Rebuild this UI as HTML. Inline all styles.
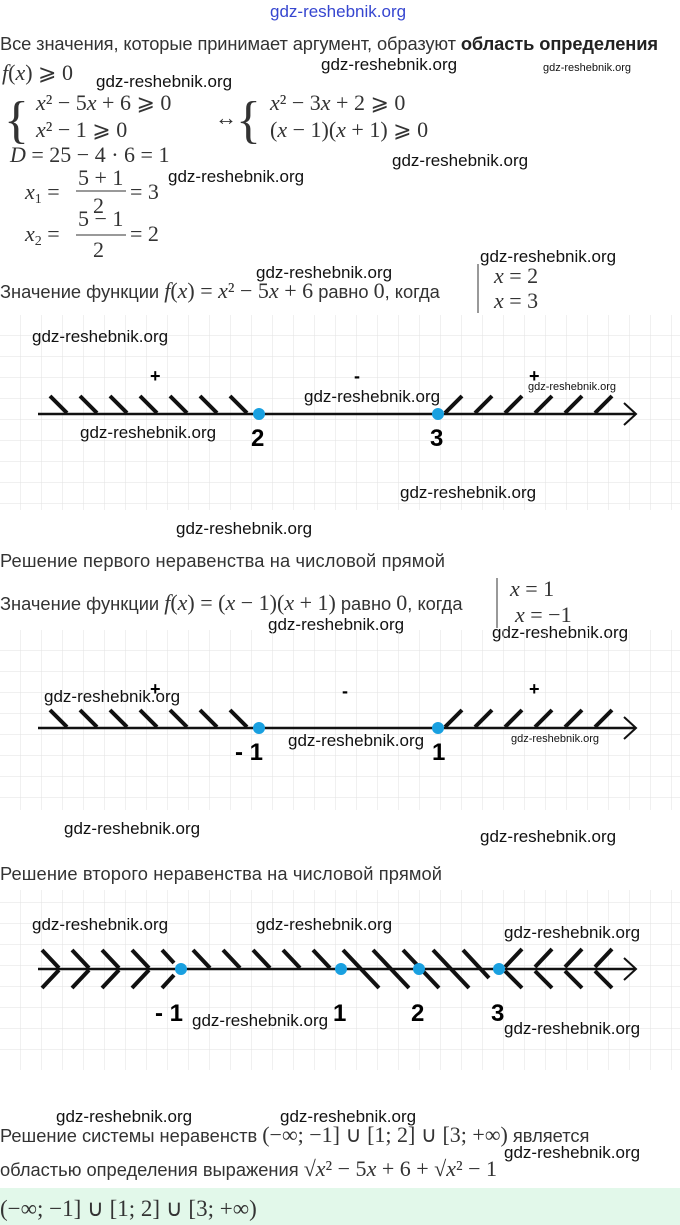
<!DOCTYPE html>
<html><head><meta charset="utf-8"><style>
body{margin:0;background:#fff;width:680px;height:1225px;overflow:hidden}
svg{display:block}
.t{font-family:"Liberation Sans",sans-serif;font-size:18.3px;fill:#333}
.m{font-family:"Liberation Serif",serif;font-size:22px;fill:#333;font-style:italic}
.n{font-family:"Liberation Serif",serif;font-size:22px;fill:#333}
.w{font-family:"Liberation Sans",sans-serif;font-size:17px;fill:#111}
.ws{font-family:"Liberation Sans",sans-serif;font-size:11px;fill:#111}
.lb{font-family:"Liberation Sans",sans-serif;font-size:24px;font-weight:bold;fill:#000}
</style></head><body>
<svg width="680" height="1225" viewBox="0 0 680 1225" xmlns="http://www.w3.org/2000/svg">
<defs>
<pattern id="g" width="21" height="21" patternUnits="userSpaceOnUse">
<path d="M21 0V21M0 21H21" stroke="#e2e2e2" stroke-width="1" fill="none"/>
</pattern>
</defs>
<text x="270" y="17" class="w" style="fill:#3646d0">gdz-reshebnik.org</text>
<text x="0" y="50" class="t" textLength="658">Все значения, которые принимает аргумент, образуют <tspan font-weight="bold" style="fill:#222">область определения</tspan></text>
<text x="2" y="80" class="n"><tspan font-style="italic">f</tspan>(<tspan font-style="italic">x</tspan>)  ⩾ 0</text>
<text x="96" y="87" class="w">gdz-reshebnik.org</text>
<text x="321" y="70" class="w">gdz-reshebnik.org</text>
<text x="543" y="71" class="ws">gdz-reshebnik.org</text>
<text x="4" y="137" class="n" style="font-size:52px">{</text>
<text x="36" y="110" class="n"><tspan font-style="italic">x</tspan>² − 5<tspan font-style="italic">x</tspan> + 6  ⩾  0</text>
<text x="36" y="137" class="n"><tspan font-style="italic">x</tspan>² − 1  ⩾  0</text>
<text x="215" y="125" class="n">↔</text>
<text x="236" y="137" class="n" style="font-size:52px">{</text>
<text x="270" y="110" class="n"><tspan font-style="italic">x</tspan>² − 3<tspan font-style="italic">x</tspan> + 2  ⩾  0</text>
<text x="270" y="137" class="n">(<tspan font-style="italic">x</tspan> − 1)(<tspan font-style="italic">x</tspan> + 1)  ⩾  0</text>
<text x="10" y="162" class="n"><tspan font-style="italic">D</tspan> = 25 − 4 · 6 = 1</text>
<text x="392" y="166" class="w">gdz-reshebnik.org</text>
<text x="25" y="199" class="n"><tspan font-style="italic">x</tspan><tspan font-size="14" dy="4">1</tspan><tspan dy="-4"> =</tspan></text>
<text x="78" y="185" class="n">5 + 1</text><line x1="76" y1="191" x2="126" y2="191" stroke="#333"/><text x="93" y="213" class="n">2</text>
<text x="130" y="199" class="n">= 3</text>
<text x="168" y="182" class="w">gdz-reshebnik.org</text>
<text x="25" y="241" class="n"><tspan font-style="italic">x</tspan><tspan font-size="14" dy="4">2</tspan><tspan dy="-4"> =</tspan></text>
<text x="78" y="226" class="n">5 − 1</text><line x1="76" y1="235" x2="126" y2="235" stroke="#333"/><text x="93" y="257" class="n">2</text>
<text x="130" y="241" class="n">= 2</text>
<text x="480" y="262" class="w">gdz-reshebnik.org</text>
<text x="256" y="278" class="w">gdz-reshebnik.org</text>
<text x="0" y="298" class="t">Значение функции <tspan style="font-size:22px;font-family:'Liberation Serif'"><tspan font-style="italic">f</tspan>(<tspan font-style="italic">x</tspan>) = <tspan font-style="italic">x</tspan>² − 5<tspan font-style="italic">x</tspan> + 6</tspan> равно <tspan style="font-size:22px;font-family:'Liberation Serif'">0</tspan>, когда</text>
<line x1="478" y1="264" x2="478" y2="313" stroke="#333"/>
<text x="494" y="283" class="n"><tspan font-style="italic">x</tspan> = 2</text>
<text x="494" y="308" class="n"><tspan font-style="italic">x</tspan> = 3</text>

<rect x="0" y="315" width="680" height="195" fill="url(#g)"/>
<g stroke="#111" stroke-width="4">
<path d="M50 396l17 17M80 396l17 17M110 396l17 17M140 396l17 17M170 396l17 17M200 396l17 17M230 396l17 17"/>
<path d="M445 413l17-17M475 413l17-17M505 413l17-17M535 413l17-17M565 413l17-17M595 413l17-17"/>
</g>
<line x1="38" y1="414" x2="636" y2="414" stroke="#111" stroke-width="2.5"/>
<path d="M624 403l12 11-12 11" stroke="#111" stroke-width="2" fill="none"/>
<circle cx="259" cy="414" r="6" fill="#19a0e0"/><circle cx="438" cy="414" r="6" fill="#19a0e0"/>
<text x="150" y="382" class="lb" style="font-size:18px">+</text>
<text x="354" y="382" class="lb" style="font-size:18px">-</text>
<text x="529" y="382" class="lb" style="font-size:18px">+</text>
<text x="251" y="446" class="lb">2</text><text x="430" y="446" class="lb">3</text>
<text x="32" y="342" class="w">gdz-reshebnik.org</text>
<text x="304" y="402" class="w">gdz-reshebnik.org</text>
<text x="528" y="390" class="ws">gdz-reshebnik.org</text>
<text x="80" y="438" class="w">gdz-reshebnik.org</text>
<text x="400" y="498" class="w">gdz-reshebnik.org</text>
<text x="176" y="534" class="w">gdz-reshebnik.org</text>
<text x="0" y="567" class="t" textLength="445">Решение первого неравенства на числовой прямой</text>
<text x="0" y="610" class="t">Значение функции <tspan style="font-size:22px;font-family:'Liberation Serif'"><tspan font-style="italic">f</tspan>(<tspan font-style="italic">x</tspan>) = (<tspan font-style="italic">x</tspan> − 1)(<tspan font-style="italic">x</tspan> + 1)</tspan> равно <tspan style="font-size:22px;font-family:'Liberation Serif'">0</tspan>, когда</text>
<line x1="497" y1="578" x2="497" y2="628" stroke="#333"/>
<text x="510" y="596" class="n"><tspan font-style="italic">x</tspan> = 1</text>
<text x="515" y="622" class="n"><tspan font-style="italic">x</tspan> = −1</text>
<text x="268" y="630" class="w">gdz-reshebnik.org</text>
<text x="492" y="638" class="w">gdz-reshebnik.org</text>

<rect x="0" y="630" width="680" height="180" fill="url(#g)"/>
<g stroke="#111" stroke-width="4">
<path d="M50 710l17 17M80 710l17 17M110 710l17 17M140 710l17 17M170 710l17 17M200 710l17 17M230 710l17 17"/>
<path d="M445 727l17-17M475 727l17-17M505 727l17-17M535 727l17-17M565 727l17-17M595 727l17-17"/>
</g>
<line x1="38" y1="728" x2="636" y2="728" stroke="#111" stroke-width="2.5"/>
<path d="M624 717l12 11-12 11" stroke="#111" stroke-width="2" fill="none"/>
<circle cx="259" cy="728" r="6" fill="#19a0e0"/><circle cx="438" cy="728" r="6" fill="#19a0e0"/>
<text x="150" y="695" class="lb" style="font-size:18px">+</text>
<text x="342" y="697" class="lb" style="font-size:18px">-</text>
<text x="529" y="695" class="lb" style="font-size:18px">+</text>
<text x="235" y="760" class="lb">- 1</text><text x="432" y="760" class="lb">1</text>
<text x="44" y="702" class="w">gdz-reshebnik.org</text>
<text x="288" y="746" class="w">gdz-reshebnik.org</text>
<text x="511" y="742" class="ws">gdz-reshebnik.org</text>
<text x="64" y="834" class="w">gdz-reshebnik.org</text>
<text x="480" y="842" class="w">gdz-reshebnik.org</text>
<text x="0" y="880" class="t" textLength="442">Решение второго неравенства на числовой прямой</text>

<rect x="0" y="890" width="680" height="180" fill="url(#g)"/>
<g stroke="#111" stroke-width="4">
<path d="M42 950l17 18M72 950l17 18M102 950l17 18M132 950l17 18M162 950l12 13"/>
<path d="M42 988l17-18M72 988l17-18M102 988l17-18M132 988l17-18M162 988l12-13"/>
<path d="M193 950l17 18M223 950l17 18M253 950l17 18M283 950l17 18M313 950l17 18"/>
<path d="M343 950l36 38M373 950l36 38M403 950l36 38M433 950l36 38M463 950l26 28"/>
<path d="M505 967l17-18M535 967l17-18M565 967l17-18M595 967l17-18"/>
<path d="M505 971l17 17M535 971l17 17M565 971l17 17M595 971l17 17"/>
</g>
<line x1="38" y1="969" x2="636" y2="969" stroke="#111" stroke-width="2.5"/>
<path d="M624 958l12 11-12 11" stroke="#111" stroke-width="2" fill="none"/>
<circle cx="181" cy="969" r="6" fill="#19a0e0"/><circle cx="341" cy="969" r="6" fill="#19a0e0"/>
<circle cx="419" cy="969" r="6" fill="#19a0e0"/><circle cx="499" cy="969" r="6" fill="#19a0e0"/>
<text x="155" y="1021" class="lb">- 1</text><text x="333" y="1021" class="lb">1</text>
<text x="411" y="1021" class="lb">2</text><text x="491" y="1021" class="lb">3</text>
<text x="32" y="930" class="w">gdz-reshebnik.org</text>
<text x="256" y="930" class="w">gdz-reshebnik.org</text>
<text x="504" y="938" class="w">gdz-reshebnik.org</text>
<text x="192" y="1026" class="w">gdz-reshebnik.org</text>
<text x="504" y="1034" class="w">gdz-reshebnik.org</text>

<text x="56" y="1122" class="w">gdz-reshebnik.org</text>
<text x="280" y="1122" class="w">gdz-reshebnik.org</text>
<text x="0" y="1142" class="t">Решение системы неравенств <tspan style="font-size:22px;font-family:'Liberation Serif'">(−∞; −1] ∪ [1; 2] ∪ [3; +∞)</tspan> является</text>
<text x="504" y="1158" class="w">gdz-reshebnik.org</text>
<text x="0" y="1176" class="t">областью определения выражения <tspan style="font-size:22px;font-family:'Liberation Serif'">√<tspan font-style="italic">x</tspan>² − 5<tspan font-style="italic">x</tspan> + 6 + √<tspan font-style="italic">x</tspan>² − 1</tspan></text>
<rect x="0" y="1188" width="680" height="37" fill="#e2f8ea"/>
<text x="0" y="1216" class="n" style="font-size:23px">(−∞; −1] ∪ [1; 2] ∪ [3; +∞)</text>
</svg>
</body></html>
